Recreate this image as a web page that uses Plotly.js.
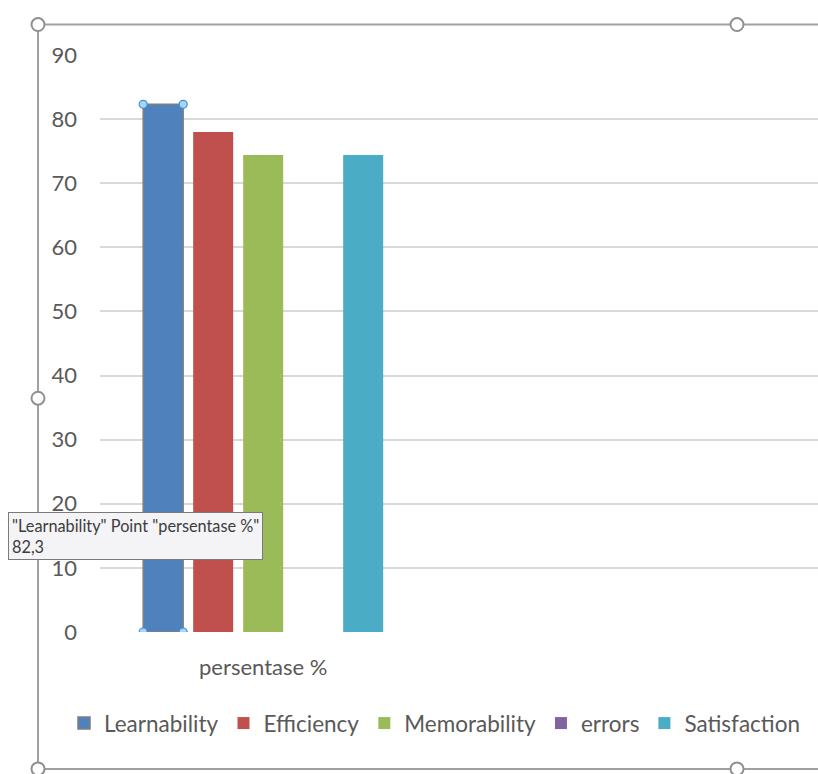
<!DOCTYPE html>
<html>
<head>
<meta charset="utf-8">
<script src="https://cdn.plot.ly/plotly-3.0.1.min.js"></script>
<style>html,body{margin:0;padding:0;background:#fff;}#chart{width:818px;height:774px;}</style>
</head>
<body>
<div id="chart"></div>
<script>
const categories = ["persentase %"];
const seriesNames = ["Learnability", "Efficiency", "Memorability", "errors", "Satisfaction"];
const learnability = [82.3];
const efficiency = [78];
const memorability = [74.4];
const errors = [null];
const satisfaction = [74.4];
const seriesValues = [learnability, efficiency, memorability, errors, satisfaction];
const colors = ["#4F81BD", "#C0504D", "#9BBB59", "#8064A2", "#4BACC6"];
const yTicks = [0, 10, 20, 30, 40, 50, 60, 70, 80, 90];

const FONT = "Lato, 'Open Sans', sans-serif";
const TXT = "#595959";
const BARGAP = 0.234, BARGROUPGAP = 0.2;

const traces = seriesNames.map((name, i) => ({
  type: "bar",
  name: name,
  x: categories,
  y: seriesValues[i],
  marker: {color: colors[i], line: {color: i === 0 ? "#7f7f7f" : colors[i], width: i === 0 ? 1.5 : 0}},
  hoverinfo: "skip"
}));

// frame (chart-object border with resize handles), in paper coords
const L = 100, T = 54.5, PW = 718, PH = 577.5;
const px = v => (v - L) / PW;
const py = v => (T + PH - v) / PH;
const frameColor = "#a0a0a0";
const shapes = [
  {type: "line", xref: "paper", yref: "paper", x0: px(38), x1: 1.01, y0: py(24), y1: py(24), line: {color: frameColor, width: 2}},
  {type: "line", xref: "paper", yref: "paper", x0: px(38), x1: px(38), y0: py(24), y1: py(790), line: {color: frameColor, width: 2}},
  {type: "line", xref: "paper", yref: "paper", x0: px(38), x1: 1.01, y0: py(769), y1: py(769), line: {color: frameColor, width: 2}}
];
[[38, 24], [737, 24], [38, 398], [38, 769], [737, 769]].forEach(([cx, cy]) => {
  shapes.push({type: "circle", xref: "paper", yref: "paper", xsizemode: "pixel", ysizemode: "pixel",
    xanchor: px(cx), yanchor: py(cy), x0: -6.5, x1: 6.5, y0: -6.5, y1: 6.5,
    fillcolor: "#ffffff", line: {color: "#909090", width: 2}});
});
// selection handles on the first series bar, derived from its value & bar layout
const nS = seriesNames.length;
const slot = (1 - BARGAP) / nS;
const bw = slot * (1 - BARGROUPGAP);
const bx0 = -(1 - BARGAP) / 2 + slot * (BARGROUPGAP / 2);
const bx1 = bx0 + bw;
[[bx0, learnability[0]], [bx1, learnability[0]], [bx0, 0], [bx1, 0]].forEach(([hx, hy]) => {
  shapes.push({type: "circle", xref: "x", yref: "y", xsizemode: "pixel", ysizemode: "pixel",
    xanchor: hx, yanchor: hy, x0: -4, x1: 4, y0: -4, y1: 4,
    fillcolor: "#a9d5f5", line: {color: "#3d8fdc", width: 1.2}});
});

const layout = {
  width: 818, height: 774,
  margin: {l: L, r: 0, t: T, b: 774 - T - PH},
  paper_bgcolor: "#ffffff", plot_bgcolor: "#ffffff",
  font: {family: FONT, color: TXT, size: 22},
  barmode: "group", bargap: BARGAP, bargroupgap: BARGROUPGAP,
  showlegend: true,
  legend: {orientation: "h", x: px(64), xanchor: "left", y: py(702), yanchor: "top",
    font: {family: FONT, size: 22.5, color: TXT}, itemwidth: 30, traceorder: "normal"},
  xaxis: {type: "category", range: [-0.5, 1.7], showgrid: false, zeroline: false, showline: false,
    ticks: "", ticklabelstandoff: 20, tickfont: {family: FONT, size: 22, color: TXT}, fixedrange: true},
  yaxis: {range: [0, 90], tickvals: yTicks, ticktext: yTicks.map(String), showgrid: true, gridcolor: "#d9d9d9", gridwidth: 2,
    zeroline: false, showline: false, ticks: "", ticklabelstandoff: 22,
    tickfont: {family: FONT, size: 22, color: TXT}, fixedrange: true},
  shapes: shapes,
  annotations: [{
    xref: "paper", yref: "paper", x: px(8), y: py(512), xanchor: "left", yanchor: "top",
    text: '"Learnability" Point "persentase %"<br>82,3', align: "left", showarrow: false,
    font: {family: FONT, size: 16.3, color: "#3c3c3c"},
    bgcolor: "#f4f4f6", bordercolor: "#7a7a7a", borderwidth: 1, borderpad: 3
  }]
};

Plotly.newPlot("chart", traces, layout, {displayModeBar: false, staticPlot: true});
</script>
</body>
</html>
